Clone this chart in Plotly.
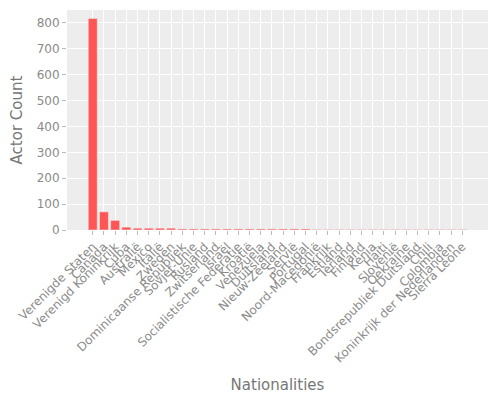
import plotly.graph_objects as go

nationalities = [
    "Verenigde Staten", "Canada", "Verenigd Koninkrijk", "Cuba", "Australië",
    "Mexico", "Italië", "Zweden", "Dominicaanse Republiek", "Sovjet-Unie",
    "Rusland", "Zwitserland", "Israël", "Socialistische Federatie", "Kroatië",
    "Venezuela", "Duitsland", "Nieuw-Zeeland", "Servië", "Portugal",
    "Noord-Macedonië", "Frankrijk", "Estland", "Ierland", "Finland",
    "Kenia", "Haïti", "Slovenië", "Oekraïne", "Bondsrepubliek Duitsland",
    "Chili", "Colombia", "Koninkrijk der Nederlanden", "Sierra Leone",
]
actor_counts = [
    817, 70, 37, 11, 7,
    7, 7, 7, 4, 4,
    4, 4, 4, 4, 4,
    4, 4, 4, 4, 4,
    2, 2, 2, 2, 2,
    2, 2, 2, 2, 2,
    2, 2, 2, 2,
]

fig = go.Figure()
fig.add_trace(
    go.Bar(
        x=nationalities,
        y=actor_counts,
        marker=dict(color='#FF5555', line=dict(color='rgb(237,237,237)', width=0.5)),
    )
)

fig.update_layout(
    template='ggplot2',
    width=500,
    height=400,
    margin=dict(l=59, r=20, t=2, b=178, autoexpand=False),
    font=dict(family='DejaVu Sans', color='#8A8A8A', size=12),
    showlegend=False,
    xaxis=dict(
        title=dict(text='Nationalities', font=dict(size=15, color='#777777')),
        tickangle=-45,
        dtick=1,
        range=[-2.3, 35.3],
        tickcolor='#BBBBBB',
        ticklen=4,
    ),
    yaxis=dict(
        title=dict(text='Actor Count', font=dict(size=15, color='#777777')),
        range=[0, 850],
        dtick=100,
        tickcolor='#BBBBBB',
        ticklen=4,
    ),
)

fig.write_html("out.html")
